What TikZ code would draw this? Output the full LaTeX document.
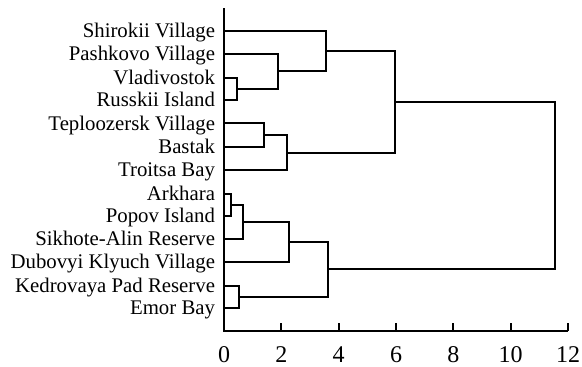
\documentclass[tikz,border=0pt]{standalone}
\usepackage{fontspec}
\setmainfont{Liberation Serif}
\begin{document}
\begin{tikzpicture}[x=1pt,y=-1pt,
  line width=2pt,
  lab/.style={anchor=base east,inner sep=0pt,font=\fontsize{20.8}{24}\selectfont},
  ticklab/.style={anchor=base,inner sep=0pt,font=\fontsize{24}{28}\selectfont},
  tree/.style={draw=black,line width=2pt}]
\useasboundingbox (0,0) rectangle (582,367);
% leaves
\foreach \n/\y/\t in {0/31/Shirokii Village,1/54/Pashkovo Village,2/78/Vladivostok,3/99.5/Russkii Island,4/123.3/Teploozersk Village,5/147/Bastak,6/170/Troitsa Bay,7/194/Arkhara,8/216/Popov Island,9/238.5/Sikhote-Alin Reserve,10/261.5/Dubovyi Klyuch Village,11/285.5/Kedrovaya Pad Reserve,12/308/Emor Bay}{
  \coordinate (l\n) at (224,\y);
  \node[lab] (t\n) at (216,\y+6.9) {\t};
}
% merge points
\coordinate (mVR) at (236.6,88.75);
\coordinate (mP) at (277.6,71.4);
\coordinate (mS) at (326,51.2);
\coordinate (mTB) at (264.1,135.2);
\coordinate (mT) at (286.8,152.6);
\coordinate (mA) at (395,101.9);
\coordinate (mAP) at (230.7,205);
\coordinate (mAPS) at (243.3,221.75);
\coordinate (mD) at (288.6,241.6);
\coordinate (mKE) at (239,296.75);
\coordinate (mB) at (328,269.2);
\coordinate (mR) at (555,185.5);
% tree
\draw[tree] (l2) -| (mVR) |- (l3);
\draw[tree] (l1) -| (mP) |- (mVR);
\draw[tree] (l0) -| (mS) |- (mP);
\draw[tree] (l4) -| (mTB) |- (l5);
\draw[tree] (mTB) -| (mT) |- (l6);
\draw[tree] (mS) -| (mA) |- (mT);
\draw[tree] (l7) -| (mAP) |- (l8);
\draw[tree] (mAP) -| (mAPS) |- (l9);
\draw[tree] (mAPS) -| (mD) |- (l10);
\draw[tree] (l11) -| (mKE) |- (l12);
\draw[tree] (mD) -| (mB) |- (mKE);
\draw[tree] (mA) -| (mR) |- (mB);
% axes
\coordinate (ytop) at (224,8);
\coordinate (orig) at (224,331);
\coordinate (xend) at (568,331);
\draw[tree] (ytop) -- (orig) -- (xend);
\foreach \k in {0,2,4,6,8,10,12}{
  \coordinate (tk\k) at (224+28.667*\k,331);
  \draw[tree] (tk\k) -- ++(0,-8.5);
  \node[ticklab] (tl\k) at (224+28.667*\k,362.5) {\k};
}
\end{tikzpicture}
\end{document}
